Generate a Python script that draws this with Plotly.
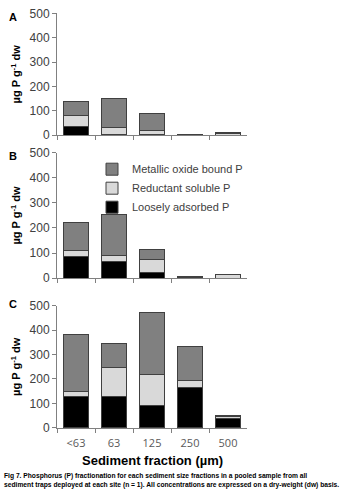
import plotly.graph_objects as go

categories = ["<63", "63", "125", "250", "500"]

# Panel A (stack heights)
a_loose = [37, 2, 2, 1, 0]
a_reduct = [43, 31, 16, 0, 9]
a_metal = [57, 117, 72, 4, 1]

# Panel B
b_loose = [88, 65, 23, 2, 0]
b_reduct = [22, 27, 50, 0, 14]
b_metal = [112, 163, 42, 6, 2]

# Panel C
c_loose = [127, 130, 90, 165, 37]
c_reduct = [20, 115, 130, 28, 8]
c_metal = [235, 102, 253, 142, 5]

names = ["Loosely adsorbed P", "Reductant soluble P", "Metallic oxide bound P"]
colors = ["#000000", "#d9d9d9", "#808080"]

W, H = 354, 495
def py(px):
    return 1 - px / H

fig = go.Figure()
panels = [
    ("", (a_loose, a_reduct, a_metal), (132.0, 6.5)),
    ("2", (b_loose, b_reduct, b_metal), (279.0, 150.0)),
    ("3", (c_loose, c_reduct, c_metal), (433.0, 307.5)),
]
for i, (suf, series, _) in enumerate(panels):
    for j, vals in enumerate(series):
        fig.add_trace(go.Bar(
            x=categories, y=vals, name=names[j],
            marker=dict(color=colors[j], line=dict(color="#404040", width=1)),
            xaxis="x" + suf, yaxis="y" + suf,
            showlegend=(i == 1), legendgroup=names[j], width=0.67,
        ))

layout = dict(
    width=W, height=H, margin=dict(l=0, r=0, t=0, b=0),
    paper_bgcolor="white", plot_bgcolor="white", barmode="stack",
    font=dict(family="Liberation Sans, Arial", color="#000000"),
    showlegend=True,
    legend=dict(x=92 / W, y=py(152), xanchor="left", yanchor="top",
                traceorder="reversed", font=dict(size=11, color="#404040"),
                bgcolor="rgba(0,0,0,0)", itemwidth=30, tracegroupgap=0),
)
for i, (suf, _, (bot, top)) in enumerate(panels):
    xa = dict(domain=[57 / W, 247 / W], type="category", showline=True,
              linecolor="#808080", linewidth=1, ticks="outside", tickson="boundaries",
              ticklen=4, tickcolor="#808080", showgrid=False, anchor="y" + suf,
              showticklabels=(i == 2), ticklabelstandoff=5,
              tickfont=dict(family="Open Sans, Liberation Sans", size=11, color="#595959"))
    ya = dict(domain=[py(bot), py(top)], range=[0, 500], tickvals=[0, 100, 200, 300, 400, 500],
              showline=True, linecolor="#808080", linewidth=1, ticks="outside", ticklen=4,
              tickcolor="#808080", showgrid=False, zeroline=False, anchor="x" + suf,
              tickfont=dict(family="Liberation Sans, Arial", size=12, color="#404040"),
              title=dict(text="<b>µg P g<sup>-1</sup> dw</b>", font=dict(size=11, color="#000000"), standoff=6))
    layout["xaxis" + suf] = xa
    layout["yaxis" + suf] = ya

fig.update_layout(**layout)

fig.add_annotation(text="<b>Sediment fraction (µm)</b>", x=152 / W, y=py(467), xref="paper", yref="paper",
                   xanchor="center", yanchor="middle", showarrow=False,
                   font=dict(size=13, color="#000000"))

for letter, ypx in [("A", 10), ("B", 153), ("C", 306)]:
    fig.add_annotation(text="<b>" + letter + "</b>", x=7 / W, y=py(ypx), xref="paper", yref="paper",
                       xanchor="left", yanchor="middle", showarrow=False,
                       font=dict(size=11, color="#000000"))

caption = ("<b>Fig 7. Phosphorus (P) fractionation for each sediment size fractions in a pooled sample from all<br>"
           "sediment traps deployed at each site (n = 1). All concentrations are expressed on a dry-weight (dw) basis.</b>")
fig.add_annotation(text=caption, x=2 / W, y=py(476), xref="paper", yref="paper",
                   xanchor="left", yanchor="top", showarrow=False, align="left",
                   font=dict(family="Liberation Sans Narrow, Liberation Sans", size=6.7, color="#000000"))

fig.write_html("out.html")
